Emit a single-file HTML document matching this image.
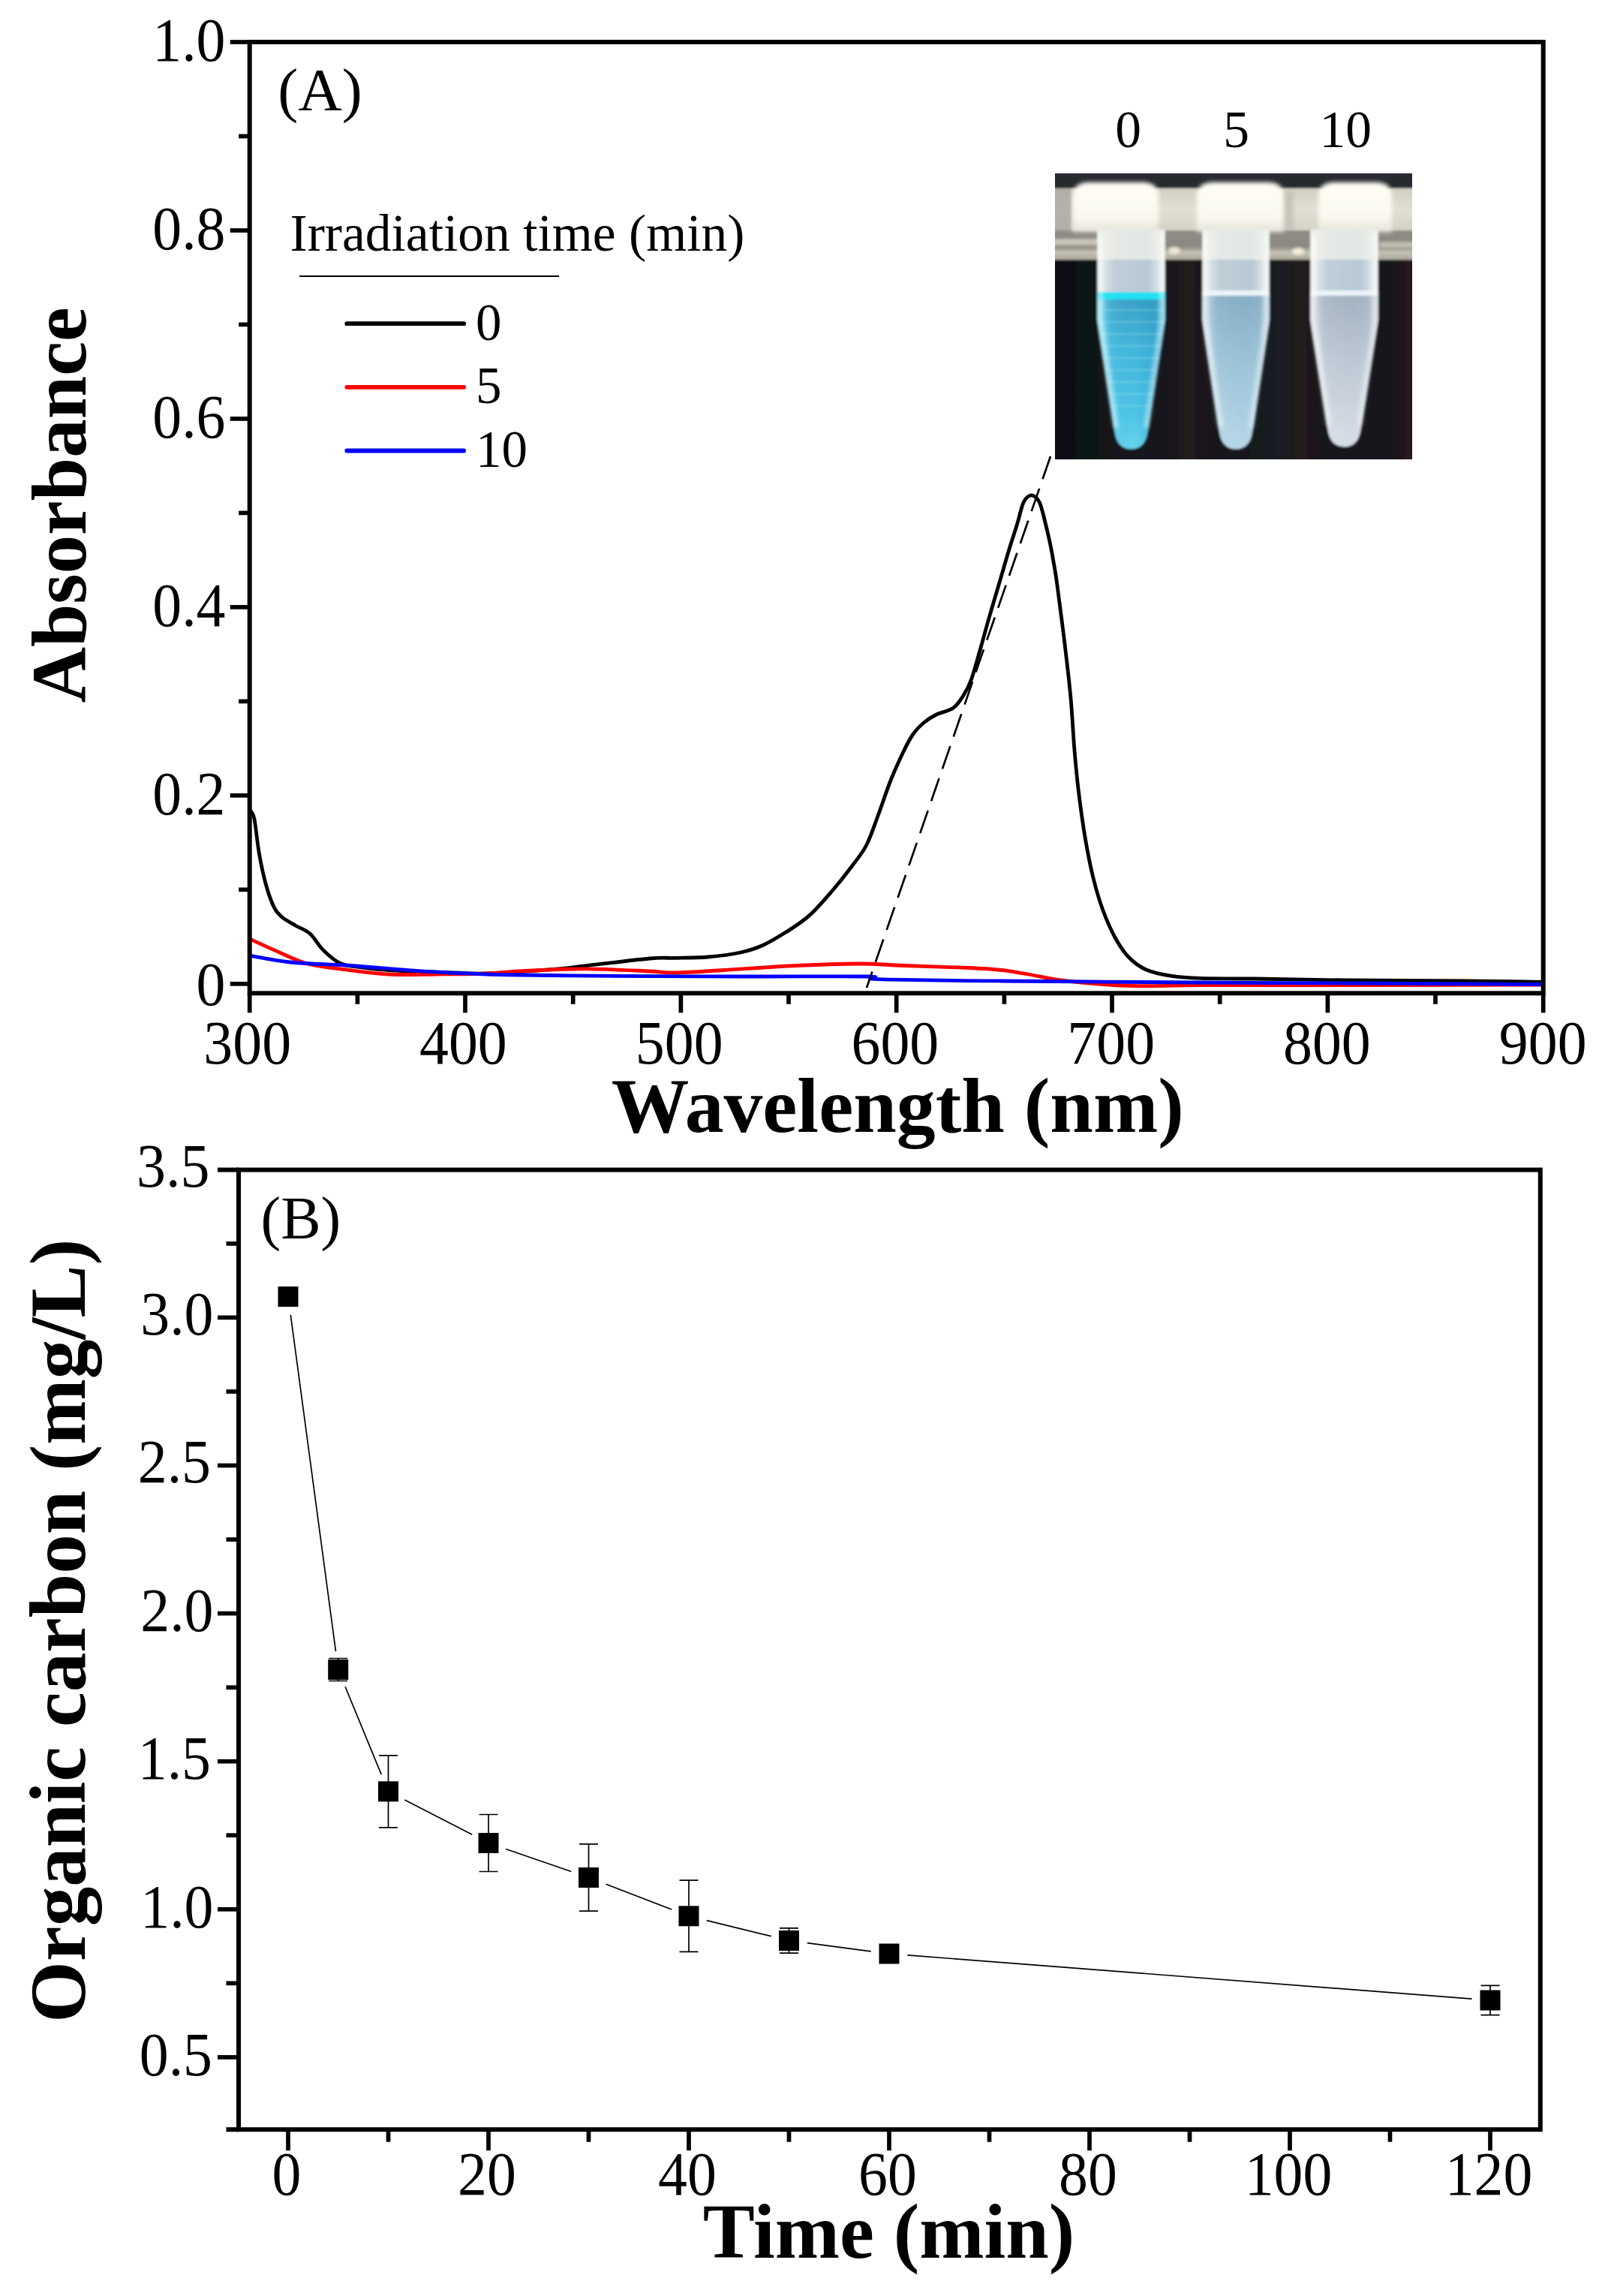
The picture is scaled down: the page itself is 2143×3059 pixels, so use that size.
<!DOCTYPE html>
<html lang="en"><head><meta charset="utf-8"><title>Figure</title>
<style>html,body{margin:0;padding:0;background:#fff;}svg{display:block;}text{font-family:'Liberation Serif','Times New Roman',Times,serif;fill:#000;}</style>
</head><body>
<svg width="2143" height="3059" viewBox="0 0 2143 3059" role="img" aria-label="Absorbance spectra and organic carbon removal figure">
<rect x="0" y="0" width="2143" height="3059" fill="#fff"/>
<defs>
<filter id="b1" x="-5%" y="-5%" width="110%" height="110%"><feGaussianBlur stdDeviation="1.5"/></filter>
<filter id="b2" x="-20%" y="-20%" width="140%" height="140%"><feGaussianBlur stdDeviation="2.5"/></filter>
<filter id="b4" x="-30%" y="-30%" width="160%" height="160%"><feGaussianBlur stdDeviation="5"/></filter>
<filter id="tb" x="-5%" y="-5%" width="110%" height="110%"><feGaussianBlur stdDeviation="0.6"/></filter>
<clipPath id="photoclip"><rect x="1406" y="231" width="476" height="381"/></clipPath>
<linearGradient id="rackTop" x1="0" y1="0" x2="0" y2="1">
 <stop offset="0" stop-color="#d2cec2"/><stop offset="0.5" stop-color="#e2dfd4"/><stop offset="1" stop-color="#d4d0c4"/>
</linearGradient>
<linearGradient id="rackLow" x1="0" y1="0" x2="0" y2="1">
 <stop offset="0" stop-color="#8e8c84"/><stop offset="0.55" stop-color="#8a8880"/><stop offset="0.75" stop-color="#c6c2b6"/><stop offset="1" stop-color="#aaa69a"/>
</linearGradient>
<linearGradient id="liq1" x1="0" y1="0" x2="0" y2="1">
 <stop offset="0" stop-color="#3a9fc6"/><stop offset="0.35" stop-color="#43b6dc"/><stop offset="0.75" stop-color="#4cc4e6"/><stop offset="1" stop-color="#66d4ee"/>
</linearGradient>
<linearGradient id="liq2" x1="0" y1="0" x2="0" y2="1">
 <stop offset="0" stop-color="#84acc4"/><stop offset="0.4" stop-color="#98c0d6"/><stop offset="1" stop-color="#b6d8e8"/>
</linearGradient>
<linearGradient id="liq3" x1="0" y1="0" x2="0" y2="1">
 <stop offset="0" stop-color="#a2b0c0"/><stop offset="0.4" stop-color="#bac6d2"/><stop offset="1" stop-color="#d8dee6"/>
</linearGradient>
<linearGradient id="edge" x1="0" y1="0" x2="1" y2="0">
 <stop offset="0" stop-color="#fff" stop-opacity="0.55"/><stop offset="0.22" stop-color="#fff" stop-opacity="0.08"/><stop offset="0.6" stop-color="#fff" stop-opacity="0"/><stop offset="0.85" stop-color="#fff" stop-opacity="0.05"/><stop offset="1" stop-color="#fff" stop-opacity="0.45"/>
</linearGradient>
<linearGradient id="edge1" x1="0" y1="0" x2="1" y2="0">
 <stop offset="0" stop-color="#9cf0fa" stop-opacity="0.8"/><stop offset="0.2" stop-color="#7fe4f6" stop-opacity="0.15"/><stop offset="0.55" stop-color="#1a88b8" stop-opacity="0"/><stop offset="0.85" stop-color="#1a88b8" stop-opacity="0.25"/><stop offset="1" stop-color="#8aeaf8" stop-opacity="0.7"/>
</linearGradient>
<linearGradient id="body" x1="0" y1="0" x2="1" y2="0">
 <stop offset="0" stop-color="#eef2f2"/><stop offset="0.25" stop-color="#c0ced8"/><stop offset="0.75" stop-color="#b8c8d4"/><stop offset="1" stop-color="#f0f4f4"/>
</linearGradient>
<linearGradient id="bgg" x1="0" y1="0" x2="1" y2="0">
 <stop offset="0" stop-color="#0e0f14"/><stop offset="0.3" stop-color="#15181d"/><stop offset="0.38" stop-color="#221a1c"/><stop offset="0.46" stop-color="#14171c"/><stop offset="0.64" stop-color="#1a1c21"/><stop offset="0.68" stop-color="#241a1b"/><stop offset="0.74" stop-color="#15171c"/><stop offset="0.93" stop-color="#16151a"/><stop offset="0.97" stop-color="#2a1a1b"/><stop offset="1" stop-color="#1c1416"/>
</linearGradient>
<linearGradient id="capg" x1="0" y1="0" x2="0" y2="1">
 <stop offset="0" stop-color="#fffef6"/><stop offset="0.7" stop-color="#faf8ee"/><stop offset="1" stop-color="#e6e4da"/>
</linearGradient>
</defs>
<g id="panelA">
<g clip-path="url(#photoclip)">
<g filter="url(#b1)">
<rect x="1396" y="221" width="496" height="401" fill="#101116"/>
<rect x="1396" y="345" width="496" height="280" fill="url(#bgg)"/>
<rect x="1396" y="221" width="496" height="32" fill="#27292f"/>
<rect x="1396" y="251" width="496" height="57" fill="url(#rackTop)"/>
<rect x="1396" y="251" width="32" height="57" fill="#a9a69d" opacity="0.8"/>
<rect x="1702" y="255" width="22" height="52" fill="#bdbbb1" opacity="0.7" filter="url(#b2)"/>
<rect x="1396" y="307" width="496" height="39" fill="url(#rackLow)"/>
<rect x="1396" y="318" width="70" height="9" fill="#d6d2c6" opacity="0.8" filter="url(#b1)"/>
<ellipse cx="1565" cy="334" rx="8" ry="5" fill="#f0e8d0" filter="url(#b1)"/>
<ellipse cx="1730" cy="335" rx="8" ry="5" fill="#f4eed8" filter="url(#b1)"/>
<rect x="1838" y="322" width="50" height="8" fill="#d8d4c8" opacity="0.7" filter="url(#b1)"/>
<path d="M1430.0,309 L1430.0,258 Q1433.0,243 1452.0,243 L1522.0,243 Q1541.0,243 1544.0,258 L1544.0,309 Z" fill="url(#capg)" filter="url(#b2)"/>
<path d="M1462.5,306.0 L1462.5,426.0 L1485.5,574.0 Q1488.5,598.0 1507.5,598.0 Q1526.5,598.0 1529.5,574.0 L1552.5,426.0 L1552.5,306.0 Z" fill="url(#body)"/>
<rect x="1462.5" y="306" width="90.0" height="40" fill="#f2f1ea" opacity="0.75"/>
<clipPath id="cliq1"><path d="M1462.5,306.0 L1462.5,426.0 L1485.5,574.0 Q1488.5,598.0 1507.5,598.0 Q1526.5,598.0 1529.5,574.0 L1552.5,426.0 L1552.5,306.0 Z"/></clipPath>
<g clip-path="url(#cliq1)">
<rect x="1460.5" y="392" width="94.0" height="208.0" fill="url(#liq1)"/>
<rect x="1462.5" y="392" width="90.0" height="206.0" fill="url(#edge1)"/>
<rect x="1462.5" y="389" width="90.0" height="10" fill="#22e0f2"/>
<rect x="1462.5" y="412.0" width="90.0" height="2" fill="#9ae8f6" opacity="0.35"/>
<rect x="1462.5" y="428.0" width="90.0" height="2" fill="#9ae8f6" opacity="0.35"/>
<rect x="1462.5" y="444.0" width="90.0" height="2" fill="#9ae8f6" opacity="0.35"/>
<rect x="1462.5" y="460.0" width="90.0" height="2" fill="#9ae8f6" opacity="0.35"/>
<rect x="1462.5" y="476.0" width="90.0" height="2" fill="#9ae8f6" opacity="0.35"/>
<rect x="1462.5" y="492.0" width="90.0" height="2" fill="#9ae8f6" opacity="0.35"/>
<rect x="1462.5" y="508.0" width="90.0" height="2" fill="#9ae8f6" opacity="0.35"/>
<rect x="1462.5" y="524.0" width="90.0" height="2" fill="#9ae8f6" opacity="0.35"/>
<rect x="1462.5" y="540.0" width="90.0" height="2" fill="#9ae8f6" opacity="0.35"/>
</g>
<path d="M1466.5,312 L1466.5,426 L1487.5,570.0" stroke="#ffffff" stroke-opacity="0.6" stroke-width="6" fill="none" filter="url(#b2)"/>
<path d="M1548.5,312 L1548.5,426 L1527.5,570.0" stroke="#ffffff" stroke-opacity="0.5" stroke-width="6" fill="none" filter="url(#b2)"/>
<path d="M1595.0,309 L1595.0,258 Q1598.0,243 1617.0,243 L1689.0,243 Q1708.0,243 1711.0,258 L1711.0,309 Z" fill="url(#capg)" filter="url(#b2)"/>
<path d="M1602.5,306.0 L1602.5,426.0 L1625.0,574.0 Q1628.0,598.0 1647.0,598.0 Q1666.0,598.0 1669.0,574.0 L1691.5,426.0 L1691.5,306.0 Z" fill="url(#body)"/>
<rect x="1602.5" y="306" width="89.0" height="40" fill="#f2f1ea" opacity="0.75"/>
<clipPath id="cliq2"><path d="M1602.5,306.0 L1602.5,426.0 L1625.0,574.0 Q1628.0,598.0 1647.0,598.0 Q1666.0,598.0 1669.0,574.0 L1691.5,426.0 L1691.5,306.0 Z"/></clipPath>
<g clip-path="url(#cliq2)">
<rect x="1600.5" y="392" width="93.0" height="208.0" fill="url(#liq2)"/>
<rect x="1602.5" y="392" width="89.0" height="206.0" fill="url(#edge)"/>
<rect x="1602.5" y="387" width="89.0" height="7" fill="#eef6fa" opacity="0.95"/>
</g>
<path d="M1606.5,312 L1606.5,426 L1627.0,570.0" stroke="#ffffff" stroke-opacity="0.6" stroke-width="6" fill="none" filter="url(#b2)"/>
<path d="M1687.5,312 L1687.5,426 L1667.0,570.0" stroke="#ffffff" stroke-opacity="0.5" stroke-width="6" fill="none" filter="url(#b2)"/>
<path d="M1757.0,309 L1757.0,258 Q1760.0,243 1779.0,243 L1833.0,243 Q1852.0,243 1855.0,258 L1855.0,309 Z" fill="url(#capg)" filter="url(#b2)"/>
<path d="M1746.5,306.0 L1746.5,426.0 L1769.5,571.0 Q1772.5,595.0 1791.5,595.0 Q1810.5,595.0 1813.5,571.0 L1836.5,426.0 L1836.5,306.0 Z" fill="url(#body)"/>
<rect x="1746.5" y="306" width="90.0" height="40" fill="#f2f1ea" opacity="0.75"/>
<clipPath id="cliq3"><path d="M1746.5,306.0 L1746.5,426.0 L1769.5,571.0 Q1772.5,595.0 1791.5,595.0 Q1810.5,595.0 1813.5,571.0 L1836.5,426.0 L1836.5,306.0 Z"/></clipPath>
<g clip-path="url(#cliq3)">
<rect x="1744.5" y="392" width="94.0" height="205.0" fill="url(#liq3)"/>
<rect x="1746.5" y="392" width="90.0" height="203.0" fill="url(#edge)"/>
<rect x="1746.5" y="387" width="90.0" height="7" fill="#eef6fa" opacity="0.95"/>
</g>
<path d="M1750.5,312 L1750.5,426 L1771.5,567.0" stroke="#ffffff" stroke-opacity="0.6" stroke-width="6" fill="none" filter="url(#b2)"/>
<path d="M1832.5,312 L1832.5,426 L1811.5,567.0" stroke="#ffffff" stroke-opacity="0.5" stroke-width="6" fill="none" filter="url(#b2)"/>
</g>
</g>
<text x="1503.5" y="195.7" font-size="69.5" text-anchor="middle">0</text>
<text x="1647.5" y="195.7" font-size="69.5" text-anchor="middle">5</text>
<text x="1793.2" y="195.7" font-size="69.5" text-anchor="middle">10</text>
<clipPath id="clipA"><rect x="332.7" y="56.0" width="1724.0" height="1267.3"/></clipPath>
<g clip-path="url(#clipA)" fill="none" stroke-linejoin="round" stroke-linecap="round">
<path d="M334.0,1080.5 C334.8,1082.3 337.1,1081.7 339.0,1091.4 C340.9,1101.2 343.1,1124.5 345.7,1139.0 C348.3,1153.5 351.1,1166.8 354.4,1178.5 C357.7,1190.2 361.7,1201.8 365.3,1209.0 C368.9,1216.2 371.3,1218.0 376.0,1222.0 C380.7,1226.0 387.4,1229.4 393.6,1233.0 C399.8,1236.6 406.8,1238.4 413.0,1243.8 C419.2,1249.2 424.0,1259.1 430.6,1265.6 C437.2,1272.1 445.2,1279.3 452.4,1283.0 C459.6,1286.7 463.1,1286.4 474.0,1288.0 C484.9,1289.6 495.9,1291.2 517.7,1292.5 C539.5,1293.8 583.0,1295.2 604.7,1296.0 C626.4,1296.8 626.3,1297.7 648.0,1297.0 C669.7,1296.3 713.2,1293.4 735.0,1291.7 C756.8,1290.0 757.2,1289.5 779.0,1287.0 C800.8,1284.5 845.8,1278.8 866.0,1277.0 C886.2,1275.2 887.1,1276.7 900.0,1276.4 C912.9,1276.1 929.0,1276.2 943.5,1275.0 C958.0,1273.8 974.7,1271.7 987.0,1269.0 C999.3,1266.3 1007.3,1263.6 1017.5,1259.0 C1027.7,1254.4 1037.8,1248.1 1048.0,1241.6 C1058.2,1235.1 1068.3,1229.0 1078.5,1219.9 C1088.7,1210.8 1099.6,1197.9 1109.0,1187.0 C1118.4,1176.1 1127.4,1164.7 1135.0,1154.5 C1142.6,1144.3 1148.9,1137.2 1154.7,1126.0 C1160.5,1114.8 1164.6,1101.5 1170.0,1087.0 C1175.4,1072.5 1181.5,1053.5 1187.3,1039.0 C1193.1,1024.5 1199.8,1010.2 1204.7,1000.0 C1209.7,989.8 1212.6,984.2 1217.0,978.0 C1221.4,971.8 1225.7,967.3 1230.9,963.0 C1236.1,958.7 1241.5,955.2 1248.0,952.0 C1254.5,948.8 1264.2,947.5 1270.0,943.5 C1275.8,939.5 1279.0,934.2 1283.0,928.0 C1287.0,921.8 1290.0,917.3 1294.0,906.5 C1298.0,895.7 1303.0,876.8 1307.0,863.0 C1311.0,849.2 1313.9,837.6 1317.9,823.8 C1321.9,810.0 1327.5,791.3 1330.8,780.0 C1334.1,768.7 1335.5,764.1 1337.8,756.1 C1340.1,748.1 1342.3,740.3 1344.8,732.2 C1347.3,724.1 1350.7,713.7 1352.7,707.4 C1354.7,701.1 1355.4,699.0 1356.7,694.4 C1358.0,689.8 1359.5,683.6 1360.7,679.5 C1361.9,675.4 1362.7,672.4 1364.0,669.6 C1365.3,666.8 1366.9,664.4 1368.7,662.8 C1370.5,661.2 1372.6,659.8 1374.6,659.8 C1376.6,659.8 1378.8,661.2 1380.6,662.8 C1382.4,664.4 1383.9,666.3 1385.4,669.6 C1386.9,672.9 1388.1,677.0 1389.6,682.5 C1391.1,688.0 1392.8,695.4 1394.5,702.4 C1396.2,709.4 1397.8,716.2 1399.5,724.3 C1401.2,732.4 1402.9,741.8 1404.5,751.1 C1406.1,760.4 1406.8,763.5 1409.0,780.0 C1411.2,796.5 1415.0,825.3 1418.0,850.0 C1421.0,874.7 1424.5,903.0 1426.8,928.0 C1429.1,953.0 1430.2,978.6 1432.0,1000.0 C1433.8,1021.4 1435.3,1037.0 1437.7,1056.6 C1440.1,1076.2 1443.2,1098.6 1446.4,1117.5 C1449.6,1136.4 1453.1,1153.9 1457.0,1169.8 C1460.9,1185.7 1465.2,1200.0 1470.0,1213.0 C1474.8,1226.0 1480.0,1237.8 1485.5,1248.0 C1491.0,1258.2 1496.1,1266.7 1503.0,1274.0 C1509.9,1281.3 1517.2,1287.3 1527.0,1291.7 C1536.8,1296.1 1549.5,1298.5 1561.7,1300.4 C1573.9,1302.4 1581.6,1302.8 1600.0,1303.4 C1618.4,1304.0 1639.7,1303.6 1672.0,1304.0 C1704.3,1304.4 1746.4,1305.5 1793.6,1306.0 C1840.8,1306.5 1911.3,1306.6 1955.0,1307.0 C1998.7,1307.4 2039.2,1308.1 2056.0,1308.3" stroke="#000" stroke-width="4.8"/>
<path d="M334.0,1251.6 C339.2,1253.9 352.5,1260.2 365.0,1265.6 C377.5,1271.0 394.2,1279.6 408.8,1283.8 C423.4,1288.0 434.2,1288.4 452.4,1290.8 C470.5,1293.2 495.9,1296.8 517.7,1298.0 C539.5,1299.2 561.3,1298.2 583.0,1298.0 C604.7,1297.8 629.9,1297.7 648.0,1297.0 C666.1,1296.3 670.0,1294.9 691.8,1293.9 C713.6,1292.9 750.0,1290.8 779.0,1290.8 C808.0,1290.8 845.8,1293.1 866.0,1294.0 C886.2,1294.9 883.5,1296.2 900.0,1296.0 C916.5,1295.8 939.7,1294.0 965.0,1292.5 C990.3,1291.0 1022.2,1288.4 1052.0,1287.0 C1081.8,1285.6 1118.3,1284.1 1143.8,1284.0 C1169.2,1283.9 1180.0,1285.6 1204.7,1286.5 C1229.4,1287.4 1270.1,1288.5 1291.8,1289.5 C1313.5,1290.5 1322.0,1291.1 1335.0,1292.5 C1348.0,1293.9 1355.5,1295.6 1370.0,1298.0 C1384.5,1300.4 1398.8,1304.4 1422.0,1307.0 C1445.2,1309.6 1479.8,1312.6 1509.5,1313.5 C1539.2,1314.4 1551.6,1312.8 1600.0,1312.6 C1648.4,1312.4 1724.0,1312.6 1800.0,1312.5 C1876.0,1312.4 2013.3,1312.1 2056.0,1312.0" stroke="#ff0000" stroke-width="4.8"/>
<path d="M334.0,1273.4 C342.8,1274.8 363.7,1279.7 387.0,1282.0 C410.3,1284.3 445.0,1285.0 474.0,1287.0 C503.0,1289.0 532.0,1292.1 561.0,1293.9 C590.0,1295.7 619.0,1297.1 648.0,1298.0 C677.0,1298.9 706.0,1299.1 735.0,1299.5 C764.0,1299.9 777.8,1300.2 822.0,1300.4 C866.2,1300.7 944.2,1300.9 1000.0,1301.0 C1055.8,1301.1 1128.7,1300.4 1157.0,1301.0 C1185.3,1301.6 1140.3,1303.7 1170.0,1304.7 C1199.7,1305.7 1263.3,1306.3 1335.0,1307.0 C1406.7,1307.7 1522.5,1308.5 1600.0,1309.0 C1677.5,1309.5 1724.0,1309.6 1800.0,1310.0 C1876.0,1310.4 2013.3,1311.2 2056.0,1311.5" stroke="#0000ff" stroke-width="4.8"/>
</g>
<line x1="1400" y1="608" x2="1155" y2="1316" stroke="#000" stroke-width="2.7" stroke-dasharray="32,13.4"/>
<g stroke="#000" stroke-width="6.0" fill="none" stroke-linecap="butt">
<rect x="332.7" y="56.0" width="1724.0" height="1267.3"/>
<line stroke-width="5.7" x1="332.7" y1="1323.3" x2="332.7" y2="1349.3"/>
<line stroke-width="5.7" x1="476.4" y1="1323.3" x2="476.4" y2="1337.8"/>
<line stroke-width="5.7" x1="620.0" y1="1323.3" x2="620.0" y2="1349.3"/>
<line stroke-width="5.7" x1="763.7" y1="1323.3" x2="763.7" y2="1337.8"/>
<line stroke-width="5.7" x1="907.4" y1="1323.3" x2="907.4" y2="1349.3"/>
<line stroke-width="5.7" x1="1051.0" y1="1323.3" x2="1051.0" y2="1337.8"/>
<line stroke-width="5.7" x1="1194.7" y1="1323.3" x2="1194.7" y2="1349.3"/>
<line stroke-width="5.7" x1="1338.4" y1="1323.3" x2="1338.4" y2="1337.8"/>
<line stroke-width="5.7" x1="1482.0" y1="1323.3" x2="1482.0" y2="1349.3"/>
<line stroke-width="5.7" x1="1625.7" y1="1323.3" x2="1625.7" y2="1337.8"/>
<line stroke-width="5.7" x1="1769.4" y1="1323.3" x2="1769.4" y2="1349.3"/>
<line stroke-width="5.7" x1="1913.0" y1="1323.3" x2="1913.0" y2="1337.8"/>
<line stroke-width="5.7" x1="2056.7" y1="1323.3" x2="2056.7" y2="1349.3"/>
<line stroke-width="5.7" x1="332.7" y1="1310.8" x2="306.7" y2="1310.8"/>
<line stroke-width="5.7" x1="332.7" y1="1185.3" x2="318.2" y2="1185.3"/>
<line stroke-width="5.7" x1="332.7" y1="1059.8" x2="306.7" y2="1059.8"/>
<line stroke-width="5.7" x1="332.7" y1="934.4" x2="318.2" y2="934.4"/>
<line stroke-width="5.7" x1="332.7" y1="808.9" x2="306.7" y2="808.9"/>
<line stroke-width="5.7" x1="332.7" y1="683.4" x2="318.2" y2="683.4"/>
<line stroke-width="5.7" x1="332.7" y1="557.9" x2="306.7" y2="557.9"/>
<line stroke-width="5.7" x1="332.7" y1="432.4" x2="318.2" y2="432.4"/>
<line stroke-width="5.7" x1="332.7" y1="307.0" x2="306.7" y2="307.0"/>
<line stroke-width="5.7" x1="332.7" y1="181.5" x2="318.2" y2="181.5"/>
<line stroke-width="5.7" x1="332.7" y1="56.0" x2="306.7" y2="56.0"/>
</g>
<text transform="translate(329.7,1417.0) scale(0.985,1.035)" font-size="79" text-anchor="middle">300</text>
<text transform="translate(617.4,1417.0) scale(0.985,1.035)" font-size="79" text-anchor="middle">400</text>
<text transform="translate(905.2,1417.0) scale(0.985,1.035)" font-size="79" text-anchor="middle">500</text>
<text transform="translate(1192.9,1417.0) scale(0.985,1.035)" font-size="79" text-anchor="middle">600</text>
<text transform="translate(1480.7,1417.0) scale(0.985,1.035)" font-size="79" text-anchor="middle">700</text>
<text transform="translate(1768.4,1417.0) scale(0.985,1.035)" font-size="79" text-anchor="middle">800</text>
<text transform="translate(2056.2,1417.0) scale(0.985,1.035)" font-size="79" text-anchor="middle">900</text>
<text transform="translate(300.5,1338.8) scale(0.985,1.035)" font-size="79" text-anchor="end">0</text>
<text transform="translate(300.5,1084.8) scale(0.985,1.035)" font-size="79" text-anchor="end">0.2</text>
<text transform="translate(300.5,833.9) scale(0.985,1.035)" font-size="79" text-anchor="end">0.4</text>
<text transform="translate(300.5,582.9) scale(0.985,1.035)" font-size="79" text-anchor="end">0.6</text>
<text transform="translate(300.5,332.0) scale(0.985,1.035)" font-size="79" text-anchor="end">0.8</text>
<text transform="translate(300.5,81.0) scale(0.985,1.035)" font-size="79" text-anchor="end">1.0</text>
<text transform="translate(113.8,672.9) rotate(-90)" font-size="103.2" font-weight="bold" text-anchor="middle">Absorbance</text>
<text x="1196.3" y="1508" font-size="103.7" font-weight="bold" text-anchor="middle">Wavelength (nm)</text>
<text x="370.3" y="147" font-size="81">(A)</text>
<text x="386.5" y="334" font-size="69.5">Irradiation time (min)</text>
<line x1="399" y1="368" x2="745" y2="368" stroke="#000" stroke-width="2.2"/>
<line x1="462.3" y1="431.2" x2="618.2" y2="431.2" stroke="#000" stroke-width="5.8" stroke-linecap="round"/>
<text x="634" y="452.7" font-size="69">0</text>
<line x1="462.3" y1="515.8" x2="618.2" y2="515.8" stroke="#ff0000" stroke-width="5.8" stroke-linecap="round"/>
<text x="634" y="537.3" font-size="69">5</text>
<line x1="462.3" y1="600.5" x2="618.2" y2="600.5" stroke="#0000ff" stroke-width="5.8" stroke-linecap="round"/>
<text x="634" y="622.0" font-size="69">10</text>
</g>
<g id="panelB">
<g stroke="#000" stroke-width="6.0" fill="none" stroke-linecap="butt">
<rect x="318.0" y="1558.6" width="1734.8" height="1278.6"/>
<line stroke-width="5.7" x1="384.0" y1="2837.2" x2="384.0" y2="2865.2"/>
<line stroke-width="5.7" x1="517.5" y1="2837.2" x2="517.5" y2="2853.7"/>
<line stroke-width="5.7" x1="651.0" y1="2837.2" x2="651.0" y2="2865.2"/>
<line stroke-width="5.7" x1="784.5" y1="2837.2" x2="784.5" y2="2853.7"/>
<line stroke-width="5.7" x1="918.0" y1="2837.2" x2="918.0" y2="2865.2"/>
<line stroke-width="5.7" x1="1051.5" y1="2837.2" x2="1051.5" y2="2853.7"/>
<line stroke-width="5.7" x1="1185.0" y1="2837.2" x2="1185.0" y2="2865.2"/>
<line stroke-width="5.7" x1="1318.5" y1="2837.2" x2="1318.5" y2="2853.7"/>
<line stroke-width="5.7" x1="1452.0" y1="2837.2" x2="1452.0" y2="2865.2"/>
<line stroke-width="5.7" x1="1585.5" y1="2837.2" x2="1585.5" y2="2853.7"/>
<line stroke-width="5.7" x1="1719.0" y1="2837.2" x2="1719.0" y2="2865.2"/>
<line stroke-width="5.7" x1="1852.5" y1="2837.2" x2="1852.5" y2="2853.7"/>
<line stroke-width="5.7" x1="1986.0" y1="2837.2" x2="1986.0" y2="2865.2"/>
<line stroke-width="6.0" x1="318.0" y1="2837.2" x2="301.5" y2="2837.2"/>
<line stroke-width="5.7" x1="318.0" y1="2740.9" x2="290.0" y2="2740.9"/>
<line stroke-width="5.7" x1="318.0" y1="2642.3" x2="301.5" y2="2642.3"/>
<line stroke-width="5.7" x1="318.0" y1="2543.8" x2="290.0" y2="2543.8"/>
<line stroke-width="5.7" x1="318.0" y1="2445.2" x2="301.5" y2="2445.2"/>
<line stroke-width="5.7" x1="318.0" y1="2346.7" x2="290.0" y2="2346.7"/>
<line stroke-width="5.7" x1="318.0" y1="2248.2" x2="301.5" y2="2248.2"/>
<line stroke-width="5.7" x1="318.0" y1="2149.6" x2="290.0" y2="2149.6"/>
<line stroke-width="5.7" x1="318.0" y1="2051.1" x2="301.5" y2="2051.1"/>
<line stroke-width="5.7" x1="318.0" y1="1952.5" x2="290.0" y2="1952.5"/>
<line stroke-width="5.7" x1="318.0" y1="1854.0" x2="301.5" y2="1854.0"/>
<line stroke-width="5.7" x1="318.0" y1="1755.4" x2="290.0" y2="1755.4"/>
<line stroke-width="5.7" x1="318.0" y1="1656.9" x2="301.5" y2="1656.9"/>
<line stroke-width="6.0" x1="318.0" y1="1558.6" x2="290.0" y2="1558.6"/>
</g>
<text transform="translate(382.0,2924.3) scale(0.985,1.035)" font-size="79" text-anchor="middle">0</text>
<text transform="translate(649.0,2924.3) scale(0.985,1.035)" font-size="79" text-anchor="middle">20</text>
<text transform="translate(916.0,2924.3) scale(0.985,1.035)" font-size="79" text-anchor="middle">40</text>
<text transform="translate(1183.0,2924.3) scale(0.985,1.035)" font-size="79" text-anchor="middle">60</text>
<text transform="translate(1450.0,2924.3) scale(0.985,1.035)" font-size="79" text-anchor="middle">80</text>
<text transform="translate(1717.0,2924.3) scale(0.985,1.035)" font-size="79" text-anchor="middle">100</text>
<text transform="translate(1984.0,2924.3) scale(0.985,1.035)" font-size="79" text-anchor="middle">120</text>
<text transform="translate(283.0,2764.9) scale(0.985,1.035)" font-size="79" text-anchor="end">0.5</text>
<text transform="translate(284.5,2567.5) scale(0.985,1.035)" font-size="79" text-anchor="end">1.0</text>
<text transform="translate(281.0,2370.1) scale(0.985,1.035)" font-size="79" text-anchor="end">1.5</text>
<text transform="translate(284.5,2172.7) scale(0.985,1.035)" font-size="79" text-anchor="end">2.0</text>
<text transform="translate(281.0,1975.3) scale(0.985,1.035)" font-size="79" text-anchor="end">2.5</text>
<text transform="translate(284.5,1777.9) scale(0.985,1.035)" font-size="79" text-anchor="end">3.0</text>
<text transform="translate(279.3,1580.8) scale(0.985,1.035)" font-size="79" text-anchor="end">3.5</text>
<text transform="translate(112.8,2172.6) rotate(-90)" font-size="105" font-weight="bold" text-anchor="middle">Organic carbon (mg/L)</text>
<text x="1184.5" y="3007.5" font-size="103.5" font-weight="bold" text-anchor="middle">Time (min)</text>
<text x="347.5" y="1649.5" font-size="80">(B)</text>
<g stroke="#000" stroke-width="1.7" fill="none">
<line x1="387.3" y1="1751.8" x2="447.5" y2="2200.2"/>
<line x1="460.1" y1="2247.2" x2="508.2" y2="2364.1"/>
<line x1="539.3" y1="2398.0" x2="629.2" y2="2444.3"/>
<line x1="674.2" y1="2463.5" x2="761.3" y2="2493.5"/>
<line x1="807.4" y1="2510.3" x2="895.1" y2="2544.0"/>
<line x1="941.8" y1="2558.6" x2="1027.7" y2="2579.7"/>
<line x1="1075.8" y1="2588.7" x2="1160.7" y2="2599.8"/>
<line x1="1209.4" y1="2604.9" x2="1961.6" y2="2663.1"/>
<path d="M450.8,2209.5 V2239.5 M438.2,2209.5 H463.2 M438.2,2239.5 H463.2"/>
<path d="M517.5,2338.8 V2434.8 M505.0,2338.8 H530.0 M505.0,2434.8 H530.0"/>
<path d="M651.0,2417.5 V2493.5 M638.5,2417.5 H663.5 M638.5,2493.5 H663.5"/>
<path d="M784.5,2456.9 V2546.1 M772.0,2456.9 H797.0 M772.0,2546.1 H797.0"/>
<path d="M918.0,2505.2 V2600.4 M905.5,2505.2 H930.5 M905.5,2600.4 H930.5"/>
<path d="M1051.5,2568.8 V2602.2 M1039.0,2568.8 H1064.0 M1039.0,2602.2 H1064.0"/>
<path d="M1986.0,2645.3 V2684.7 M1973.5,2645.3 H1998.5 M1973.5,2684.7 H1998.5"/>
</g>
<rect x="370.5" y="1714.0" width="27" height="27" fill="#000"/>
<rect x="437.2" y="2211.0" width="27" height="27" fill="#000"/>
<rect x="504.0" y="2373.3" width="27" height="27" fill="#000"/>
<rect x="637.5" y="2442.0" width="27" height="27" fill="#000"/>
<rect x="771.0" y="2488.0" width="27" height="27" fill="#000"/>
<rect x="904.5" y="2539.3" width="27" height="27" fill="#000"/>
<rect x="1038.0" y="2572.0" width="27" height="27" fill="#000"/>
<rect x="1171.5" y="2589.5" width="27" height="27" fill="#000"/>
<rect x="1972.5" y="2651.5" width="27" height="27" fill="#000"/>
</g>
</svg></body></html>
